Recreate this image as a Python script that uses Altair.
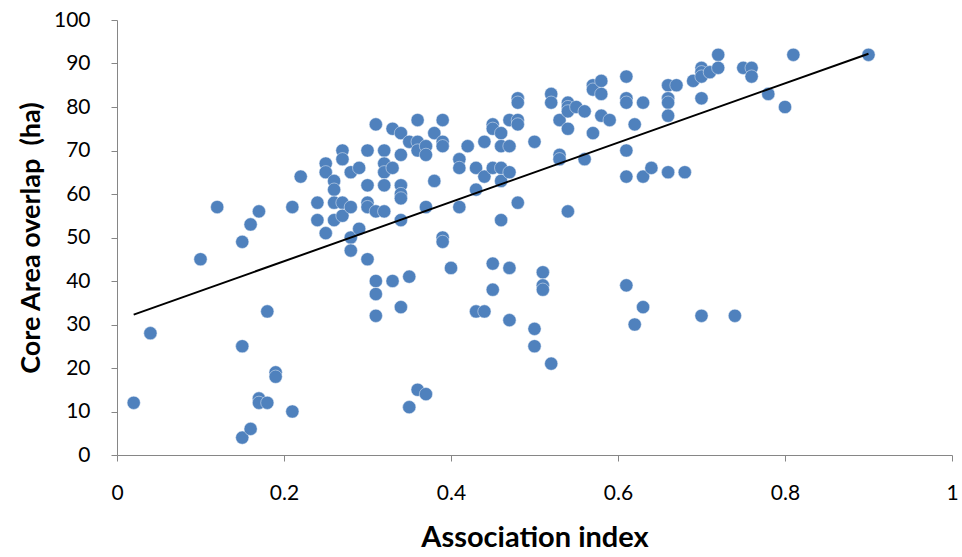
import altair as alt
import pandas as pd

assoc = [0.02, 0.04, 0.10, 0.12, 0.15, 0.15, 0.15, 0.16, 0.16, 0.17, 0.17, 0.17,
         0.18, 0.18, 0.19, 0.19, 0.21, 0.21, 0.22, 0.24, 0.24, 0.25, 0.25, 0.25,
         0.26, 0.26, 0.26, 0.26, 0.27, 0.27, 0.27, 0.27, 0.28, 0.28, 0.28, 0.28,
         0.29, 0.29, 0.30, 0.30, 0.30, 0.30, 0.30, 0.31, 0.31, 0.31, 0.31, 0.31,
         0.32, 0.32, 0.32, 0.32, 0.32, 0.33, 0.33, 0.33, 0.34, 0.34, 0.34, 0.34,
         0.34, 0.34, 0.34, 0.35, 0.35, 0.35, 0.36, 0.36, 0.36, 0.36, 0.37, 0.37,
         0.37, 0.37, 0.38, 0.38, 0.39, 0.39, 0.39, 0.39, 0.39, 0.40, 0.41, 0.41,
         0.41, 0.42, 0.43, 0.43, 0.43, 0.44, 0.44, 0.44, 0.45, 0.45, 0.45, 0.45,
         0.45, 0.46, 0.46, 0.46, 0.46, 0.46, 0.47, 0.47, 0.47, 0.47, 0.47, 0.48,
         0.48, 0.48, 0.48, 0.48, 0.50, 0.50, 0.50, 0.51, 0.51, 0.51, 0.52, 0.52,
         0.52, 0.53, 0.53, 0.53, 0.54, 0.54, 0.54, 0.54, 0.54, 0.55, 0.56, 0.56,
         0.57, 0.57, 0.57, 0.58, 0.58, 0.58, 0.59, 0.61, 0.61, 0.61, 0.61, 0.61,
         0.61, 0.62, 0.62, 0.63, 0.63, 0.63, 0.64, 0.66, 0.66, 0.66, 0.66, 0.66,
         0.67, 0.68, 0.69, 0.70, 0.70, 0.70, 0.70, 0.70, 0.71, 0.72, 0.72, 0.74,
         0.75, 0.76, 0.76, 0.78, 0.80, 0.81, 0.90]

overlap = [12, 28, 45, 57, 49, 25, 4, 53, 6, 56, 13, 12,
           33, 12, 19, 18, 10, 57, 64, 58, 54, 67, 65, 51,
           63, 61, 58, 54, 70, 68, 58, 55, 65, 57, 50, 47,
           66, 52, 70, 62, 58, 57, 45, 76, 56, 40, 37, 32,
           70, 67, 65, 62, 56, 75, 66, 40, 74, 69, 62, 60,
           59, 54, 34, 72, 41, 11, 77, 72, 70, 15, 71, 69,
           57, 14, 74, 63, 77, 72, 71, 50, 49, 43, 68, 66,
           57, 71, 66, 61, 33, 72, 64, 33, 76, 75, 66, 44,
           38, 74, 71, 66, 63, 54, 77, 71, 65, 43, 31, 82,
           81, 77, 76, 58, 72, 29, 25, 42, 39, 38, 83, 81,
           21, 77, 69, 68, 81, 80, 79, 75, 56, 80, 79, 68,
           85, 84, 74, 86, 83, 78, 77, 87, 82, 81, 70, 64,
           39, 76, 30, 81, 64, 34, 66, 85, 82, 81, 78, 65,
           85, 65, 86, 89, 88, 87, 82, 32, 88, 92, 89, 32,
           89, 89, 87, 83, 80, 92, 92]

x_ticks = [0, 0.2, 0.4, 0.6, 0.8, 1]
y_ticks = [0, 10, 20, 30, 40, 50, 60, 70, 80, 90, 100]

df = pd.DataFrame({"assoc": assoc, "overlap": overlap})

FONT = "Lato"
AXIS_GRAY = "#868686"
W, H = 835, 435

x_enc = alt.X(
    "assoc:Q",
    scale=alt.Scale(domain=[0, 1], nice=False, zero=True),
    axis=alt.Axis(
        title="Association index",
        values=x_ticks,
        format="~g",
        grid=False,
        domainColor=AXIS_GRAY,
        tickColor=AXIS_GRAY,
        tickSize=6,
        labelFontSize=21,
        labelFont=FONT,
        labelColor="#000000",
        labelBaseline="middle",
        labelPadding=32,
        labelFlush=False,
        titleFont=FONT,
        titleFontSize=29,
        titleFontWeight="bold",
        titleColor="#000000",
        titleBaseline="middle",
        titleX=W / 2,
        titleY=82,
    ),
)
y_enc = alt.Y(
    "overlap:Q",
    scale=alt.Scale(domain=[0, 100], nice=False),
    axis=alt.Axis(
        title="Core Area overlap\u00a0\u00a0(ha)",
        values=y_ticks,
        grid=False,
        domainColor=AXIS_GRAY,
        tickColor=AXIS_GRAY,
        tickSize=6,
        labelFontSize=21,
        labelFont=FONT,
        labelColor="#000000",
        labelPadding=21,
        labelFlush=False,
        titleFont=FONT,
        titleFontSize=27,
        titleFontWeight="bold",
        titleColor="#000000",
        titleBaseline="middle",
        titleAlign="center",
        titleX=-86,
        titleY=H / 2,
    ),
)

points = alt.Chart(df).mark_circle(
    size=175, color="#4F81BD", opacity=1, stroke="#e8eef7", strokeWidth=0.5
).encode(x=x_enc, y=y_enc)

trend = alt.Chart(df).transform_regression(
    "assoc", "overlap", method="linear"
).mark_line(color="#000000", strokeWidth=2).encode(
    x="assoc:Q", y="overlap:Q"
)

chart = alt.layer(points, trend).properties(
    width=W,
    height=H,
    autosize=alt.AutoSizeParams(type="none"),
    padding={"left": 117, "top": 20, "right": 10, "bottom": 102},
    background="#ffffff",
).configure_view(stroke=None)

chart.save("out.html", embed_options={"renderer": "svg", "actions": False})
